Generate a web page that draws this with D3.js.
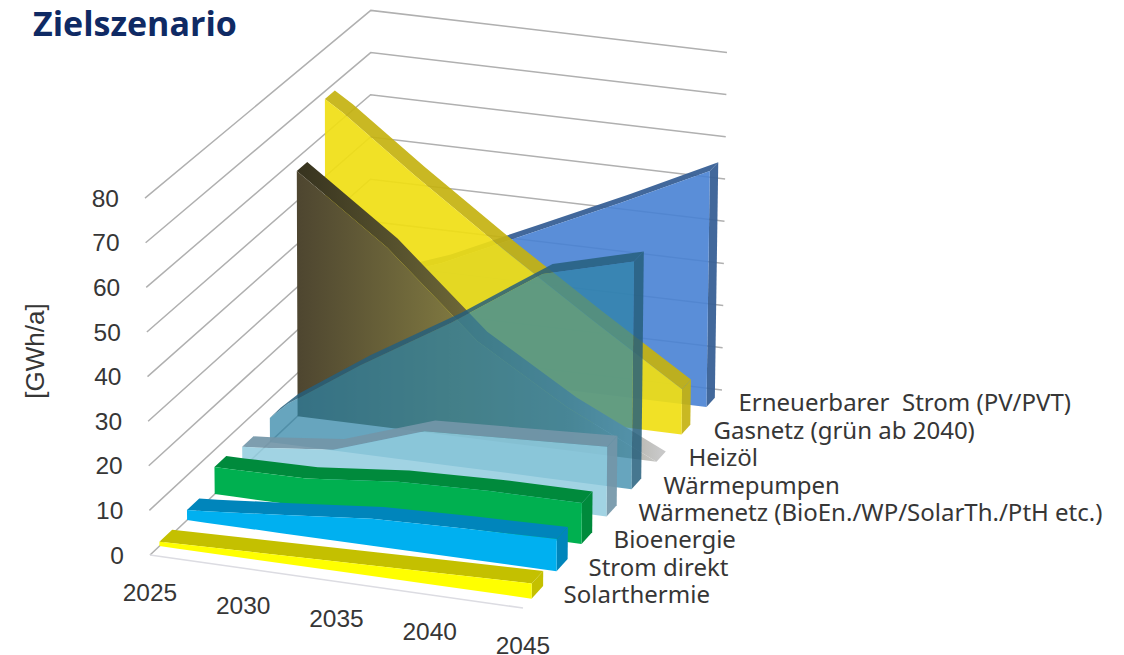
<!DOCTYPE html>
<html lang="de">
<head>
<meta charset="utf-8">
<title>Zielszenario</title>
<script src="https://cdn.jsdelivr.net/npm/d3@7"></script>
<style>
  html, body { margin: 0; background: #fff; }
  svg { display: block; }
</style>
</head>
<body>
<svg id="chart" width="1124" height="655"></svg>
<script>
// Annual heat supply per energy carrier, GWh/a, listed front to back.
const years = [2025, 2026, 2030, 2035, 2040, 2045];
const tickYears = [2025, 2030, 2035, 2040, 2045];
const tickValues = [0, 10, 20, 30, 40, 50, 60, 70, 80];
const seriesNames = ["Solarthermie", "Strom direkt", "Bioenergie",
  "Wärmenetz (BioEn./WP/SolarTh./PtH etc.)", "Wärmepumpen", "Heizöl",
  "Gasnetz (grün ab 2040)", "Erneuerbarer  Strom (PV/PVT)"];

const solarthermie = [1, 1.1, 1.6, 2.2, 2.8, 3.4];
const stromDirekt = [2.3, 2.6, 4.1, 6.1, 6.8, 7.3];
const bioenergie = [6.2, 6.2, 6.4, 8.5, 9.2, 9.3];
const waermenetz = [4.9, 5.2, 7, 14, 15, 16];
const waermepumpen = [5.6, 9.4, 20.5, 33, 47, 52.6];
const heizoel = [57, 54, 41.8, 22.7, 10, 0];
const gasnetz = [68.2, 65.5, 52.9, 38, 24, 10.6];
const erneuerbar = [19.6, 20.3, 26.4, 36, 45.6, 55.7];
const seriesValues = [solarthermie, stromDirekt, bioenergie, waermenetz,
  waermepumpen, heizoel, gasnetz, erneuerbar];

const frontColors = ["#ffff00", "#00b0f0", "#00b050", "rgba(145,203,222,0.85)",
  "rgba(45,130,165,0.72)", "url(#oilFace)", "rgba(240,222,20,0.92)", "rgba(72,130,212,0.9)"];
const sideColors = ["#c4c000", "#0085bb", "#008a3c", "rgba(115,150,168,0.92)",
  "rgba(38,95,125,0.85)", "url(#oilSide)", "rgba(196,178,16,0.92)", "rgba(56,96,150,0.95)"];

// Oblique room: four floor corners, with wall height scaled along the depth.
const wide = d3.scaleLinear().domain([2025, 2045]).range([0, 1]);
const deep = d3.scaleLinear().domain([0, 7]).range([0.043, 0.922]);
const bandDepth = d3.scaleLinear().domain([0, 7]).range([0.058, 0.042]);

const frontX = d3.scaleLinear().range([150, 523]);
const backX = d3.scaleLinear().range([370, 722]);
const frontY = d3.scaleLinear().range([555, 608]);
const backY = d3.scaleLinear().range([348, 390]);
const rise = d3.scaleLinear().range([4.46, 4.22]);
const leanFront = d3.scaleLinear().range([-0.0625, 0.03]);
const leanBack = d3.scaleLinear().range([0.01, 0.0625]);

function project(year, depth, value) {
  const t = wide(year);
  const lean = d3.interpolateNumber(leanFront(t), leanBack(t))(depth);
  const x = d3.interpolateNumber(frontX(t), backX(t))(depth) + lean * value;
  const y = d3.interpolateNumber(frontY(t), backY(t))(depth) - rise(depth) * value;
  return [x, y];
}

const svg = d3.select("#chart");
const outline = d3.line();
const closed = pts => outline(pts) + "Z";

// Heizöl fades from dark olive through to grey towards its final year.
const defs = svg.append("defs");
function oilGradient(id, stops) {
  const g = defs.append("linearGradient").attr("id", id)
    .attr("gradientUnits", "userSpaceOnUse")
    .attr("x1", 298).attr("x2", 660).attr("y1", 0).attr("y2", 0);
  stops.forEach(([o, c]) => g.append("stop").attr("offset", o).attr("stop-color", c));
}
oilGradient("oilFace", [[0, "#4e4630"], [0.44, "#7f7840"], [0.75, "#8f8f70"], [1, "#c8c8c8"]]);
oilGradient("oilSide", [[0, "#37331f"], [0.44, "#6a6436"], [0.75, "#8f8f78"], [1, "#c8c8c8"]]);

// Walls and floor
const grid = svg.append("g").attr("fill", "none").attr("stroke", "#b0b0b0").attr("stroke-width", 1.5);
tickValues.forEach(v => {
  const path = [project(2025, 0, v), project(2025, 1, v), project(2045, 1, v)];
  grid.append("path").attr("d", outline(path));
});
grid.append("path")
  .attr("d", outline([project(2025, 0, 0), project(2045, 0, 0)]))
  .attr("stroke", "#dcdce2");

// Bands, painted from the back of the room to the front
const marks = svg.append("g");
d3.range(seriesNames.length - 1, -1, -1).forEach(i => {
  const vals = seriesValues[i];
  const front = deep(i), back = front + bandDepth(i);
  const topFront = years.map((y, j) => project(y, front, vals[j]));
  const topBack = years.map((y, j) => project(y, back, vals[j]));
  const baseFront = years.map(y => project(y, front, 0));
  const last = years.length - 1;
  const g = marks.append("g");
  g.append("path").attr("fill", sideColors[i]).attr("d", closed([
    topFront[last], topBack[last], project(years[last], back, 0), baseFront[last]]));
  g.append("path").attr("fill", sideColors[i])
    .attr("d", closed(topFront.concat(topBack.slice().reverse())));
  g.append("path").attr("fill", frontColors[i])
    .attr("d", closed(topFront.concat(baseFront.slice().reverse())));
});

// Axis labels
const ink = "#363636";
const axisFont = "'Liberation Sans', Arial, sans-serif";
svg.append("g").selectAll("text").data(tickValues).join("text")
  .attr("x", d => project(2025, 0, d)[0] - 26).attr("y", d => project(2025, 0, d)[1])
  .attr("dy", "0.35em").attr("text-anchor", "end")
  .attr("font-family", axisFont).attr("font-size", 24.5).attr("fill", ink)
  .text(d => d);

svg.append("g").selectAll("text").data(tickYears).join("text")
  .attr("x", d => project(d, 0, 0)[0])
  .attr("y", d => project(d, 0, 0)[1] + 37)
  .attr("dy", "0.35em").attr("text-anchor", "middle")
  .attr("font-family", axisFont).attr("font-size", 24.5).attr("fill", ink)
  .text(d => d);

svg.append("g").selectAll("text").data(seriesNames).join("text")
  .attr("x", (d, i) => project(2045, deep(i), 0)[0] + 32)
  .attr("y", (d, i) => project(2045, deep(i), 0)[1] - 4)
  .attr("dy", "0.35em")
  .attr("xml:space", "preserve").style("white-space", "pre")
  .attr("font-family", "'Noto Sans', sans-serif").attr("font-size", 24).attr("fill", ink)
  .text(d => d);

svg.append("text")
  .attr("transform", "translate(35,351) rotate(-90)")
  .attr("dy", "0.35em").attr("text-anchor", "middle")
  .attr("font-family", axisFont).attr("font-size", 26).attr("fill", ink)
  .text("[GWh/a]");

svg.append("text")
  .attr("x", 33).attr("y", 36)
  .attr("font-family", "'Open Sans', sans-serif").attr("font-weight", 700)
  .attr("font-size", 34).attr("fill", "#0f2a64")
  .text("Zielszenario");
</script>
</body>
</html>
